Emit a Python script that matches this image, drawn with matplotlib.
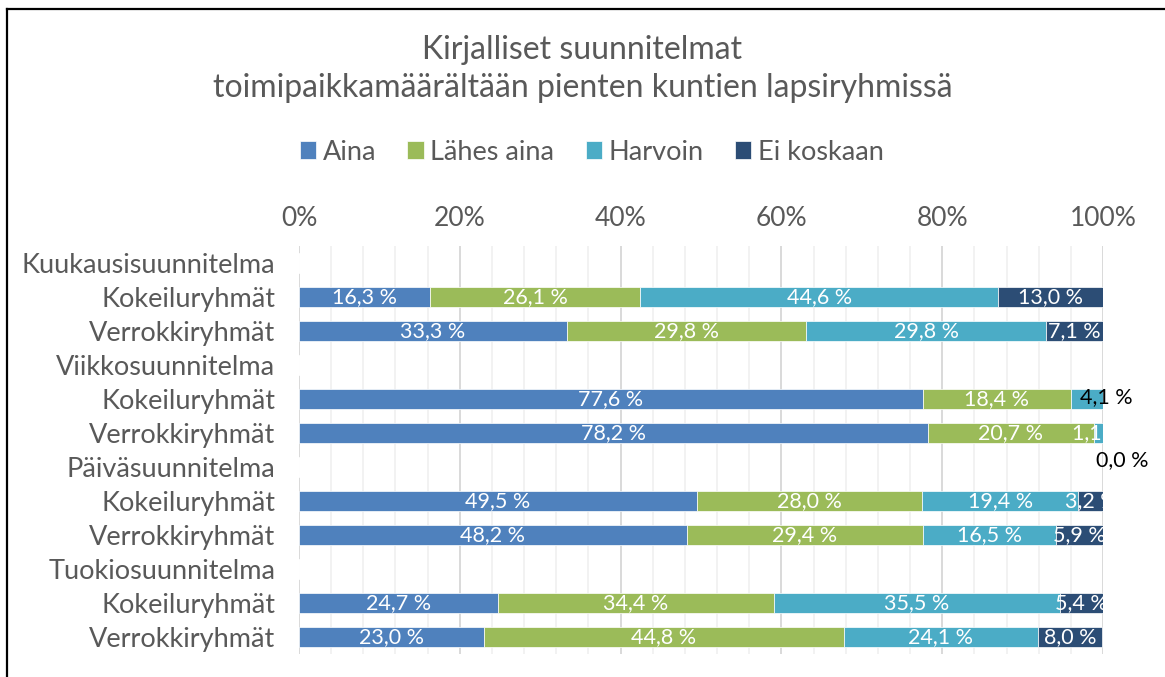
import numpy as np
import matplotlib
matplotlib.use("Agg")
import matplotlib.pyplot as plt
from matplotlib.lines import Line2D

plt.rcParams["font.family"] = ["Lato", "DejaVu Sans"]

rows = ["Kuukausisuunnitelma", "Kokeiluryhmät", "Verrokkiryhmät",
        "Viikkosuunnitelma", "Kokeiluryhmät", "Verrokkiryhmät",
        "Päiväsuunnitelma", "Kokeiluryhmät", "Verrokkiryhmät",
        "Tuokiosuunnitelma", "Kokeiluryhmät", "Verrokkiryhmät"]
series = ["Aina", "Lähes aina", "Harvoin", "Ei koskaan"]
colors = ["#4F81BD", "#9BBB59", "#4BACC6", "#2C4D75"]

# None = header row (no bar)
aina = [None, 16.3, 33.3, None, 77.6, 78.2, None, 49.5, 48.2, None, 24.7, 23.0]
lahes = [None, 26.1, 29.8, None, 18.4, 20.7, None, 28.0, 29.4, None, 34.4, 44.8]
harvoin = [None, 44.6, 29.8, None, 4.1, 1.1, None, 19.4, 16.5, None, 35.5, 24.1]
ei = [None, 13.0, 7.1, None, 0.0, 0.0, None, 3.2, 5.9, None, 5.4, 8.0]

text_col = "#595959"

fig = plt.figure(figsize=(11.65, 6.77), dpi=100)
ax = fig.add_axes([299 / 1165, 1 - 654 / 677, 804 / 1165, 408 / 677])

y = np.arange(len(rows))
left = np.zeros(len(rows))
data = [aina, lahes, harvoin, ei]
for name, vals, col in zip(series, data, colors):
    v = np.array([0.0 if x is None else x for x in vals])
    ax.barh(y, v, left=left, height=0.6, color=col, edgecolor="white",
            linewidth=0.5, label=name, zorder=3)
    for i, x in enumerate(vals):
        if x is None or x == 0:
            continue
        if name == "Harvoin" and i == 4:
            continue  # manually placed label below
        lbl = f"{x:.1f} %".replace(".", ",")
        ax.text(left[i] + v[i] / 2, y[i], lbl, ha="center", va="center",
                color="white", fontsize=15.5, zorder=4, clip_on=True)
    left += v

# labels that were moved by hand in the original
ax.text(100.4, 3.95, "4,1 %", ha="center", va="center", color="black",
        fontsize=15.5, clip_on=False, zorder=5)
ax.text(102.4, 5.8, "0,0 %", ha="center", va="center", color="black",
        fontsize=15.5, clip_on=False, zorder=5)

ax.set_xlim(0, 100)
ax.set_ylim(len(rows) - 0.5, -0.5)
ax.set_yticks(y)
ax.set_yticklabels(rows, fontsize=19.5, color=text_col)
ax.set_xticks(np.arange(0, 101, 20))
ax.set_xticklabels([f"{t}%" for t in range(0, 101, 20)], fontsize=19,
                   color=text_col)
ax.set_xticks(np.arange(0, 101, 4), minor=True)
ax.xaxis.tick_top()
ax.tick_params(axis="both", length=0, which="both")
ax.tick_params(axis="x", pad=11)
ax.tick_params(axis="y", pad=17)
ax.grid(axis="x", which="major", color="#D9D9D9", linewidth=1.4, zorder=0)
ax.grid(axis="x", which="minor", color="#F0F0F0", linewidth=1.2, zorder=0)
ax.set_axisbelow(True)
for s in ax.spines.values():
    s.set_visible(False)

fig.text(0.5, 1 - 50 / 677, "Kirjalliset suunnitelmat", ha="center",
         va="center", fontsize=23, color=text_col)
fig.text(0.5, 1 - 88 / 677, "toimipaikkamäärältään pienten kuntien lapsiryhmissä",
         ha="center", va="center", fontsize=23, color=text_col)

fig.legend(loc="center", bbox_to_anchor=(0.508, 1 - 152 / 677), ncol=4,
           frameon=False, fontsize=19.5, handlelength=0.6, handleheight=0.6,
           handletextpad=0.25, columnspacing=1.15, labelcolor=text_col)

# chart frame
fig.add_artist(Line2D([7 / 1165, 7 / 1165], [0, 1 - 9 / 677], color="black",
                      linewidth=1.6, transform=fig.transFigure))
fig.add_artist(Line2D([7 / 1165, 1], [1 - 9 / 677, 1 - 9 / 677], color="black",
                      linewidth=1.6, transform=fig.transFigure))

fig.savefig("out.png", dpi=100)
